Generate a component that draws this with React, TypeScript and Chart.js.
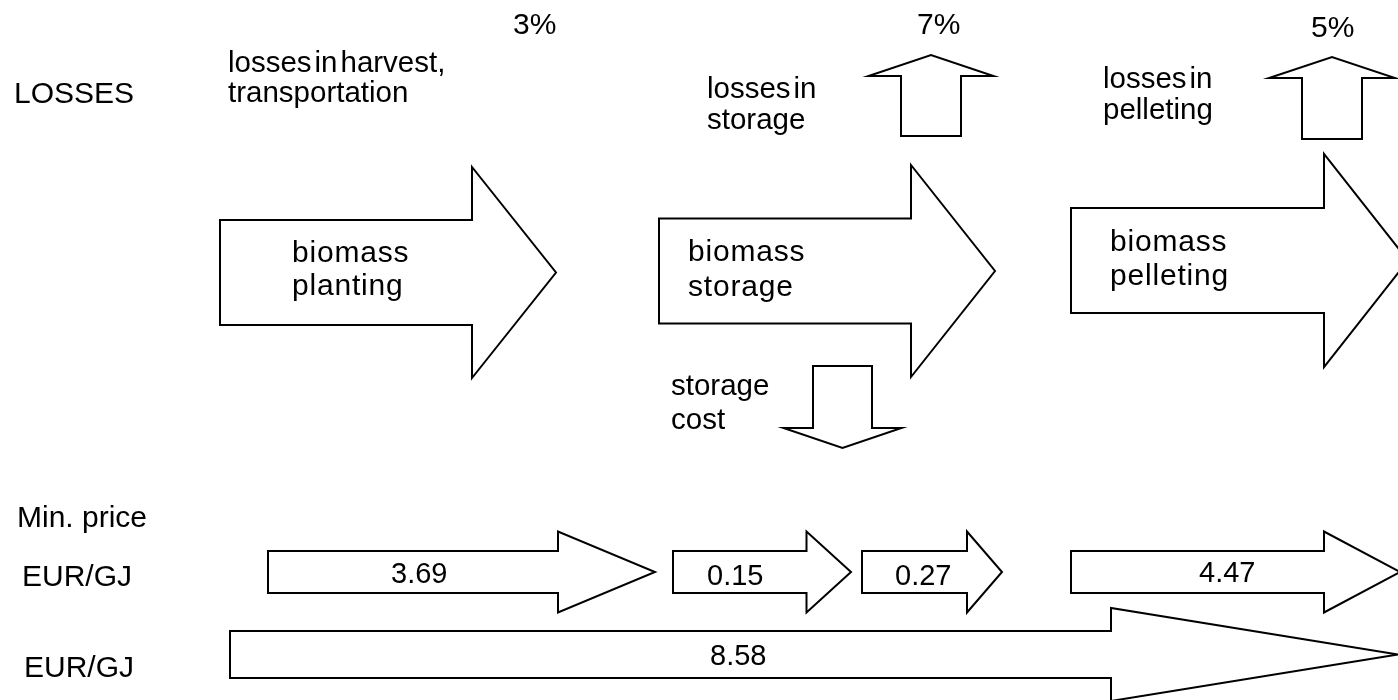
import React, { useEffect, useRef } from "react";
import { Chart, registerables } from "chart.js";

Chart.register(...registerables);

// ---- values ----
const rowLabels = ["LOSSES", "Min. price", "EUR/GJ", "EUR/GJ"];
const stageNames = [
  ["biomass", "planting"],
  ["biomass", "storage"],
  ["biomass", "pelleting"],
];
const lossNotes = [
  ["losses in harvest,", "transportation"],
  ["losses in", "storage"],
  ["losses in", "pelleting"],
];
const lossPercents = [3, 7, 5];
const costNote = ["storage", "cost"];
const stepPrices = [3.69, 0.15, 0.27, 4.47];
const totalPrices = [8.58];

// ---- layout (data units on hidden 0..1398 / 0..700 scales) ----
type HArrow = { x0: number; x1: number; x2: number; yc: number; sh: number; hh: number };
type VArrow = { xc: number; sw: number; y0: number; y1: number; y2: number; hw: number };

const stageArrows: HArrow[] = [
  { x0: 220, x1: 472, x2: 556, yc: 272.5, sh: 52.5, hh: 105.5 },
  { x0: 659, x1: 911, x2: 995, yc: 271, sh: 52.5, hh: 106 },
  { x0: 1071, x1: 1324, x2: 1408, yc: 260.5, sh: 52.5, hh: 106.5 },
];
const lossArrows: VArrow[] = [
  { xc: 931, sw: 30, y0: 136, y1: 76, y2: 55, hw: 62.5 },
  { xc: 1332, sw: 30, y0: 139, y1: 78, y2: 57, hw: 63 },
];
const costArrow: VArrow = { xc: 842.5, sw: 29.5, y0: 366, y1: 428, y2: 448, hw: 59 };
const priceArrows: HArrow[] = [
  { x0: 268, x1: 558, x2: 655, yc: 572, sh: 21, hh: 40.5 },
  { x0: 673, x1: 806.5, x2: 851, yc: 572, sh: 21, hh: 40.5 },
  { x0: 862, x1: 967, x2: 1002, yc: 572, sh: 21, hh: 40.5 },
  { x0: 1071, x1: 1324, x2: 1400, yc: 572, sh: 21, hh: 40.5 },
];
const totalArrows: HArrow[] = [{ x0: 230, x1: 1111, x2: 1398, yc: 654.5, sh: 23.5, hh: 46.5 }];

const rowLabelPos = [
  [14, 103],
  [17, 527],
  [22, 586],
  [24, 677],
];
const stageTextPos = [
  [292, 262, 33],
  [688, 261, 35],
  [1110, 251, 34],
];
const lossNotePos = [
  [228, 72, 30],
  [707, 98, 31],
  [1103, 88, 31],
];
const lossPctPos = [
  [513, 34],
  [917, 34],
  [1311, 37],
];
const costNotePos = [671, 395, 34];
const priceTextPos = [
  [391, 583],
  [707, 585],
  [895, 585],
  [1199, 582],
];
const totalTextPos = [[710, 665]];

const FONT = "'Liberation Sans', Arial, 'Helvetica', sans-serif";

const drawPlugin = {
  id: "flowDiagram",
  afterDraw(chart: any) {
    const ctx: CanvasRenderingContext2D = chart.ctx;
    const xs = chart.scales.x;
    const ys = chart.scales.y;
    const X = (v: number) => xs.getPixelForValue(v);
    const Y = (v: number) => ys.getPixelForValue(v);

    const poly = (pts: number[][]) => {
      ctx.beginPath();
      pts.forEach(([x, y], i) => (i ? ctx.lineTo(X(x), Y(y)) : ctx.moveTo(X(x), Y(y))));
      ctx.closePath();
      ctx.fillStyle = "#ffffff";
      ctx.fill();
      ctx.lineWidth = 2;
      ctx.strokeStyle = "#000000";
      ctx.lineJoin = "miter";
      ctx.stroke();
    };
    const hArrow = (a: HArrow) =>
      poly([
        [a.x0, a.yc - a.sh],
        [a.x1, a.yc - a.sh],
        [a.x1, a.yc - a.hh],
        [a.x2, a.yc],
        [a.x1, a.yc + a.hh],
        [a.x1, a.yc + a.sh],
        [a.x0, a.yc + a.sh],
      ]);
    const vArrow = (a: VArrow) =>
      poly([
        [a.xc - a.sw, a.y0],
        [a.xc - a.sw, a.y1],
        [a.xc - a.hw, a.y1],
        [a.xc, a.y2],
        [a.xc + a.hw, a.y1],
        [a.xc + a.sw, a.y1],
        [a.xc + a.sw, a.y0],
      ]);
    // text with optional tight word spacing / extra letter spacing
    const text = (s: string, x: number, y: number, size = 29, spaceEm = 0.278, letter = 0) => {
      ctx.font = `${size}px ${FONT}`;
      ctx.fillStyle = "#000000";
      ctx.textAlign = "left";
      ctx.textBaseline = "alphabetic";
      (ctx as any).letterSpacing = `${letter}px`;
      let px = X(x);
      const words = s.split(" ");
      words.forEach((w, i) => {
        ctx.fillText(w, px, Y(y));
        px += ctx.measureText(w).width + (i < words.length - 1 ? spaceEm * size : 0);
      });
      (ctx as any).letterSpacing = "0px";
    };

    ctx.save();
    stageArrows.forEach(hArrow);
    lossArrows.forEach(vArrow);
    vArrow(costArrow);
    totalArrows.forEach(hArrow);
    priceArrows.forEach(hArrow);

    rowLabels.forEach((s, i) => text(s, rowLabelPos[i][0], rowLabelPos[i][1], 30));
    stageNames.forEach((lines, i) => {
      const [x, y, dy] = stageTextPos[i];
      lines.forEach((l, j) => text(l, x, y + j * dy, 30, 0.278, 0.8));
    });
    lossNotes.forEach((lines, i) => {
      const [x, y, dy] = lossNotePos[i];
      lines.forEach((l, j) => text(l, x, y + j * dy, 29.5, 0.1));
    });
    lossPercents.forEach((p, i) => text(`${p}%`, lossPctPos[i][0], lossPctPos[i][1], 30));
    costNote.forEach((l, j) => text(l, costNotePos[0], costNotePos[1] + j * costNotePos[2], 29.5));
    stepPrices.forEach((p, i) => text(p.toFixed(2), priceTextPos[i][0], priceTextPos[i][1], 29));
    totalPrices.forEach((p, i) => text(p.toFixed(2), totalTextPos[i][0], totalTextPos[i][1], 29));
    ctx.restore();
  },
};

export default function App() {
  const ref = useRef<HTMLCanvasElement | null>(null);
  useEffect(() => {
    if (!ref.current) return;
    const chart = new Chart(ref.current, {
      type: "scatter",
      data: { datasets: [{ data: [], pointRadius: 0 }] },
      options: {
        animation: false,
        responsive: false,
        maintainAspectRatio: false,
        layout: { padding: 0 },
        plugins: { legend: { display: false }, tooltip: { enabled: false } },
        scales: {
          x: { type: "linear", min: 0, max: 1398, display: false },
          y: { type: "linear", min: 0, max: 700, reverse: true, display: false },
        },
      },
      plugins: [drawPlugin],
    });
    return () => chart.destroy();
  }, []);
  return (
    <div style={{ position: "fixed", left: 0, top: 0, width: 1398, height: 700, background: "#ffffff" }}>
      <canvas ref={ref} width={1398} height={700} style={{ display: "block", width: 1398, height: 700 }} />
    </div>
  );
}
